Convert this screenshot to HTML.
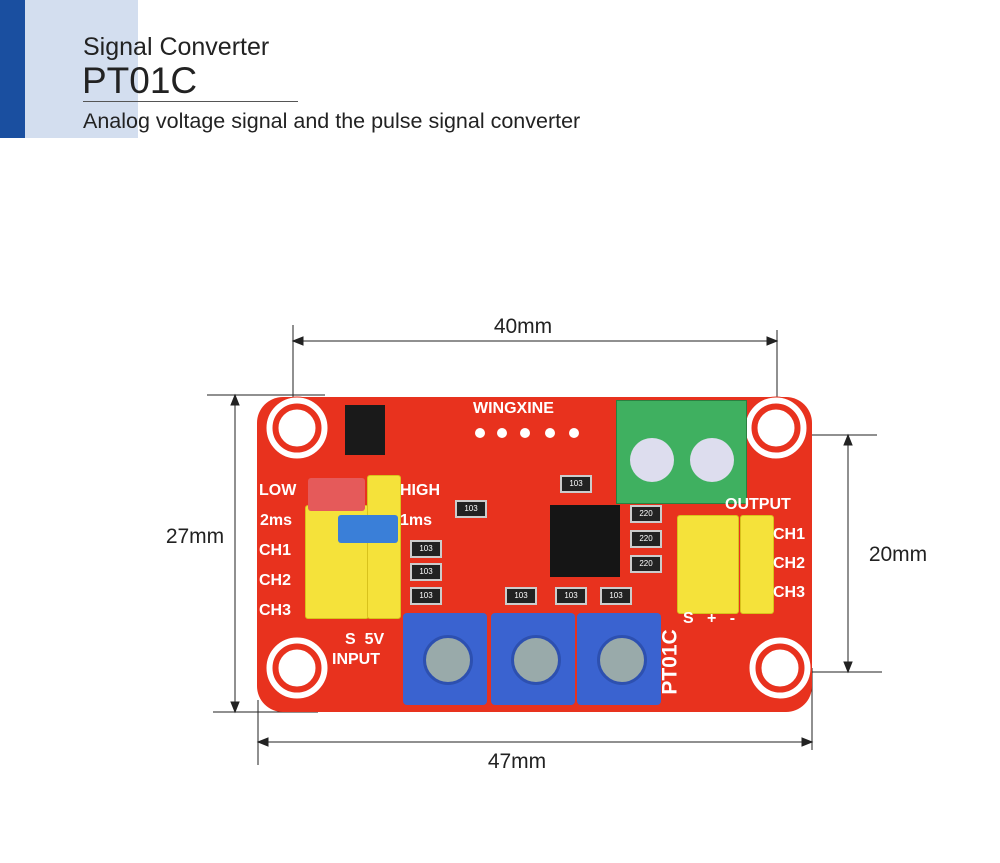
<!DOCTYPE html>
<html><head><style>
body{margin:0;width:1000px;height:863px;background:#fff;position:relative;overflow:hidden;font-family:"Liberation Sans",sans-serif}
.a{position:absolute}
.t{position:absolute;color:#fff;font-weight:bold;font-size:16px;white-space:nowrap}
.y{position:absolute;background:#f5e23a;border:1px solid #d8c21c;border-radius:3px}
.pot{position:absolute;background:#3a63d0;border-radius:4px;width:84px;height:92px}
.pot i{position:absolute;left:20px;top:22px;width:44px;height:44px;border-radius:50%;background:#9aa;border:3px solid #2d50b0}
.r{position:absolute;background:#222;border:2px solid #ccc;width:28px;height:14px;color:#fff;font-size:8px;text-align:center;line-height:14px}
.d{position:absolute;color:#222;font-size:21px;width:100px;text-align:center}
</style></head><body>
<div class="a" style="left:0;top:0;width:25px;height:138px;background:#1a4fa0"></div>
<div class="a" style="left:25px;top:0;width:113px;height:138px;background:#d3deef"></div>
<div class="a" style="left:83px;top:33px;font-size:25px;color:#222">Signal Converter</div>
<div class="a" style="left:82px;top:60px;font-size:37px;color:#222">PT01C</div>
<div class="a" style="left:83px;top:101px;width:215px;height:1px;background:#555"></div>
<div class="a" style="left:83px;top:109px;font-size:21.5px;color:#222">Analog voltage signal and the pulse signal converter</div>

<svg class="a" style="left:0;top:0" width="1000" height="863">
<g stroke="#222" stroke-width="1" fill="#222">
<line x1="293" y1="325" x2="293" y2="440"/><line x1="777" y1="330" x2="777" y2="430"/>
<line x1="293" y1="341" x2="777" y2="341"/>
<polygon points="293,341 303,337 303,345"/><polygon points="777,341 767,337 767,345"/>
<line x1="207" y1="395" x2="325" y2="395"/><line x1="213" y1="712" x2="318" y2="712"/>
<line x1="235" y1="395" x2="235" y2="712"/>
<polygon points="235,395 231,405 239,405"/><polygon points="235,712 231,702 239,702"/>
<line x1="770" y1="435" x2="877" y2="435"/><line x1="775" y1="672" x2="882" y2="672"/>
<line x1="848" y1="435" x2="848" y2="672"/>
<polygon points="848,435 844,445 852,445"/><polygon points="848,672 844,662 852,662"/>
<line x1="258" y1="700" x2="258" y2="765"/><line x1="812" y1="668" x2="812" y2="750"/>
<line x1="258" y1="742" x2="812" y2="742"/>
<polygon points="258,742 268,738 268,746"/><polygon points="812,742 802,738 802,746"/>
</g></svg>
<div class="d" style="left:473px;top:315px">40mm</div>
<div class="d" style="left:145px;top:525px">27mm</div>
<div class="d" style="left:848px;top:543px">20mm</div>
<div class="d" style="left:467px;top:750px">47mm</div>

<div class="a" style="left:257px;top:397px;width:555px;height:315px;background:#e8321e;border-radius:26px"></div>
<svg class="a" style="left:0;top:0" width="1000" height="863">
<g fill="#fff" stroke="#e8321e">
<circle cx="297" cy="428" r="31" /><circle cx="297" cy="428" r="24" fill="#e8321e"/><circle cx="297" cy="428" r="19"/>
<circle cx="776" cy="428" r="31"/><circle cx="776" cy="428" r="24" fill="#e8321e"/><circle cx="776" cy="428" r="19"/>
<circle cx="297" cy="668" r="31"/><circle cx="297" cy="668" r="24" fill="#e8321e"/><circle cx="297" cy="668" r="19"/>
<circle cx="780" cy="668" r="31"/><circle cx="780" cy="668" r="24" fill="#e8321e"/><circle cx="780" cy="668" r="19"/>
</g>
<g fill="#fff"><circle cx="480" cy="433" r="5"/><circle cx="502" cy="433" r="5"/><circle cx="525" cy="433" r="5"/><circle cx="550" cy="433" r="5"/><circle cx="574" cy="433" r="5"/></g>
</svg>
<div class="a" style="left:345px;top:405px;width:40px;height:50px;background:#1a1a1a"></div>
<div class="a" style="left:616px;top:400px;width:129px;height:102px;background:#3fb060;border:1px solid #2a8040"></div>
<div class="a" style="left:630px;top:438px;width:44px;height:44px;border-radius:50%;background:#dde"></div>
<div class="a" style="left:690px;top:438px;width:44px;height:44px;border-radius:50%;background:#dde"></div>
<div class="a" style="left:550px;top:505px;width:70px;height:72px;background:#151515"></div>
<div class="r" style="left:455px;top:500px">103</div>
<div class="r" style="left:410px;top:540px">103</div><div class="r" style="left:410px;top:563px">103</div><div class="r" style="left:410px;top:587px">103</div>
<div class="r" style="left:505px;top:587px">103</div><div class="r" style="left:555px;top:587px">103</div><div class="r" style="left:600px;top:587px">103</div>
<div class="r" style="left:630px;top:505px">220</div><div class="r" style="left:630px;top:530px">220</div><div class="r" style="left:630px;top:555px">220</div>
<div class="r" style="left:560px;top:475px">103</div>
<div class="y" style="left:305px;top:505px;width:62px;height:112px"></div>
<div class="y" style="left:367px;top:475px;width:32px;height:142px"></div>
<div class="a" style="left:308px;top:478px;width:57px;height:33px;background:#e55a5a;border-radius:3px"></div>
<div class="a" style="left:338px;top:515px;width:60px;height:28px;background:#3a7fd8;border-radius:3px"></div>
<div class="y" style="left:677px;top:515px;width:60px;height:97px"></div>
<div class="y" style="left:740px;top:515px;width:32px;height:97px"></div>
<div class="pot" style="left:403px;top:613px"><i></i></div>
<div class="pot" style="left:491px;top:613px"><i></i></div>
<div class="pot" style="left:577px;top:613px"><i></i></div>
<div class="t" style="left:259px;top:482px">LOW</div><div class="t" style="left:400px;top:482px">HIGH</div>
<div class="t" style="left:260px;top:512px">2ms</div><div class="t" style="left:400px;top:512px">1ms</div>
<div class="t" style="left:259px;top:542px">CH1</div><div class="t" style="left:259px;top:572px">CH2</div><div class="t" style="left:259px;top:602px">CH3</div>
<div class="t" style="left:725px;top:496px">OUTPUT</div>
<div class="t" style="left:773px;top:526px">CH1</div><div class="t" style="left:773px;top:555px">CH2</div><div class="t" style="left:773px;top:584px">CH3</div>
<div class="t" style="left:473px;top:400px">WINGXINE</div>
<div class="t" style="left:683px;top:610px">S&nbsp;&nbsp;&nbsp;+&nbsp;&nbsp;&nbsp;-</div>
<div class="t" style="left:345px;top:631px">S&nbsp;&nbsp;5V</div>
<div class="t" style="left:332px;top:651px">INPUT</div>
<div class="t" style="left:638px;top:650px;transform:rotate(-90deg);font-size:21px">PT01C</div>
</body></html>
